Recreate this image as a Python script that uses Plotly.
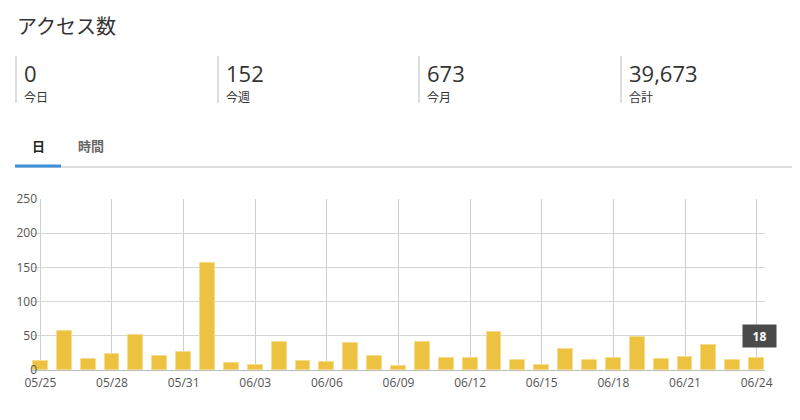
import plotly.graph_objects as go

# daily access counts 05/25 - 06/24
days = ["05/25", "05/26", "05/27", "05/28", "05/29", "05/30", "05/31",
        "06/01", "06/02", "06/03", "06/04", "06/05", "06/06", "06/07",
        "06/08", "06/09", "06/10", "06/11", "06/12", "06/13", "06/14",
        "06/15", "06/16", "06/17", "06/18", "06/19", "06/20", "06/21",
        "06/22", "06/23", "06/24"]
visits = [13, 57, 16, 24, 51, 21, 26,
          157, 10, 7, 41, 13, 11, 39,
          20, 6, 41, 18, 17, 56, 14,
          8, 31, 15, 17, 48, 16, 19,
          36, 15, 18]

stat_values = ["0", "152", "673", "39,673"]
stat_labels = ["今日", "今週", "今月", "合計"]
tab_labels = ["日", "時間"]

# the page puts the figure 8px in from the top-left corner
OFF = 8
W, H = 800, 420
L, R, T, B = 24, 43, 191, 58
pw, ph = W - L - R, H - T - B


def px(x):
    # x in screenshot pixels -> paper
    return (x - OFF - L) / pw


def py(y):
    return (H - B - (y - OFF)) / ph


JP = "Noto Sans CJK JP, Open Sans, sans-serif"
BAR = "#EDC240"

fig = go.Figure()
fig.add_trace(go.Bar(
    x=days, y=visits, width=0.62,
    marker=dict(color=BAR, line=dict(color="#F6DD8E", width=1)),
    hoverinfo="skip",
))
# invisible copy so the label axis gets drawn
fig.add_trace(go.Scatter(
    x=days, y=visits, yaxis="y2", mode="markers",
    marker=dict(opacity=0), hoverinfo="skip",
))

ann = []
shapes = []

ann.append(dict(text="アクセス数", x=px(15), y=py(25), xref="paper", yref="paper",
                xanchor="left", yanchor="middle", showarrow=False,
                font=dict(size=20, color="#333", family=JP)))

cols = [15, 217, 418, 620]
for c, v, lab in zip(cols, stat_values, stat_labels):
    shapes.append(dict(type="line", xref="paper", yref="paper",
                       x0=px(c + 1), x1=px(c + 1), y0=py(56), y1=py(103),
                       line=dict(color="#dddddd", width=2)))
    ann.append(dict(text=v, x=px(c + 7), y=py(73), xref="paper", yref="paper",
                    xanchor="left", yanchor="middle", showarrow=False,
                    font=dict(size=22, color="#333", family="Open Sans, sans-serif")))
    ann.append(dict(text=lab, x=px(c + 7), y=py(96), xref="paper", yref="paper",
                    xanchor="left", yanchor="middle", showarrow=False,
                    font=dict(size=12, color="#333", family=JP)))

ann.append(dict(text="<b>" + tab_labels[0] + "</b>", x=px(38), y=py(145),
                xref="paper", yref="paper", xanchor="center", yanchor="middle",
                showarrow=False, font=dict(size=13, color="#222", family=JP)))
ann.append(dict(text="<b>" + tab_labels[1] + "</b>", x=px(91), y=py(145),
                xref="paper", yref="paper", xanchor="center", yanchor="middle",
                showarrow=False, font=dict(size=13, color="#666", family=JP)))
shapes.append(dict(type="line", xref="paper", yref="paper",
                   x0=px(15), x1=px(808), y0=py(167), y1=py(167),
                   line=dict(color="#bbbbbb", width=1)))
shapes.append(dict(type="line", xref="paper", yref="paper",
                   x0=px(15), x1=px(61), y0=py(166), y1=py(166),
                   line=dict(color="#3a8fd9", width=3)))

# tooltip on last bar
ann.append(dict(text="<b>18</b>", x=days[-1], y=visits[-1], xref="x", yref="y",
                xanchor="center", yanchor="middle", showarrow=False,
                xshift=3, yshift=22, bgcolor="#4a4a4a", borderpad=4,
                width=25, height=14,
                font=dict(size=12, color="white", family="Open Sans, sans-serif")))

fig.update_layout(
    width=W, height=H,
    margin=dict(l=L, r=R, t=T, b=B, autoexpand=False),
    paper_bgcolor="white", plot_bgcolor="white",
    showlegend=False, bargap=0,
    annotations=ann, shapes=shapes,
    font=dict(family="Open Sans, sans-serif", size=12, color="#545454"),
)
fig.update_xaxes(
    type="category", range=[-0.35, len(days) - 1 + 0.35],
    tickmode="array", tickvals=days[::3], ticktext=days[::3],
    showgrid=True, gridcolor="#cfcfcf", gridwidth=1,
    ticks="", tickfont=dict(size=12, color="#545454"), ticklabelstandoff=4,
    showline=False, zeroline=False, automargin=False,
)
fig.update_layout(
    yaxis=dict(
        range=[0, 250], dtick=50, showgrid=True, gridcolor="#d6d6d6",
        zeroline=True, zerolinecolor="#bbbbbb", zerolinewidth=1,
        showline=False, ticks="", showticklabels=False, automargin=False,
    ),
    # tick labels drawn from a second axis sitting at the 05/25 gridline
    yaxis2=dict(
        overlaying="y", anchor="free", side="left", position=px(40),
        range=[0, 250], dtick=50, showgrid=False, zeroline=False,
        showline=False, ticks="", automargin=False, ticklabelstandoff=3,
        tickfont=dict(size=12, color="#545454"),
    ),
)

fig.write_html("out.html")
